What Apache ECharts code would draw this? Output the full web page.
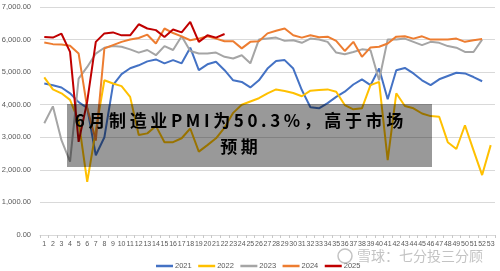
<!DOCTYPE html>
<html>
<head>
<meta charset="utf-8">
<script src="https://cdn.jsdelivr.net/npm/echarts@6/dist/echarts.min.js"></script>
<style>
  html, body { margin: 0; padding: 0; background: #fff; }
  #chart { width: 500px; height: 271px; }
</style>
</head>
<body>
<div id="chart"></div>
<script>
// weeks 1..53
const weeks = Array.from({ length: 53 }, (_, i) => String(i + 1));

const years = ['2021', '2022', '2023', '2024', '2025'];
const colors = ['#4472C4', '#FFC000', '#A5A5A5', '#ED7D31', '#C00000'];

const y2021 = [4650, 4600, 4530, 4350, 4080, 3900, 2450, 3000, 4600, 4940,
    5120, 5210, 5330, 5390, 5270, 5370, 5270, 5750, 5060, 5240,
    5320, 5060, 4750, 4700, 4530, 4750, 5110, 5340, 5370, 5110,
    4450, 3920, 3890, 4050, 4240, 4400, 4620, 4780, 4600, 5110,
    4170, 5060, 5130, 4960, 4750, 4600, 4780, 4880, 4980, 4960,
    4850, 4720];
const y2022 = [4840, 4470, 4350, 4150, 3500, 1630, 3200, 4750, 4650, 4570,
    4240, 3070, 3120, 3350, 2850, 2850, 2970, 3270, 2560, 2760,
    2970, 3300, 3750, 4000, 4100, 4200, 4350, 4470, 4420, 4360,
    4260, 4430, 4450, 4470, 4400, 3990, 3860, 3890, 4600, 4700,
    2300, 4350, 3960, 3890, 3730, 3650, 3630, 2850, 2640, 3370,
    2600, 1840, 2760];
const y2023 = [3430, 3950, 2910, 2250, 4800, 5160, 5570, 5750, 5800, 5780,
    5700, 5600, 5680, 5520, 5800, 5680, 6100, 5650, 5570, 5570,
    5600, 5470, 5420, 5520, 5270, 6000, 6030, 6060, 5960, 5980,
    5900, 6030, 6000, 5930, 5600, 5550, 5620, 5700, 5670, 4750,
    6000, 6000, 6030, 5930, 5830, 5930, 5900, 5800, 5750, 5620,
    5620, 6000];
const y2024 = [5910, 5860, 5850, 5810, 5570, 3900, 2900, 5730, 5830, 5930,
    6000, 6050, 6150, 5880, 6340, 6200, 6100, 5980, 6030, 6100,
    6030, 5950, 5950, 5730, 5930, 5950, 6190, 6270, 6340, 6130,
    6060, 6130, 6070, 6090, 5960, 5650, 5930, 5470, 5760, 5780,
    5880, 6090, 6100, 6030, 6100, 6000, 6000, 6000, 6030, 5930,
    5980, 6020];
const y2025 = [6080, 6060, 6180, 5620, 2860, 4100, 5930, 6190, 6220, 6130,
    6130, 6470, 6340, 6290, 6080, 6310, 6220, 6540, 5930, 6130,
    6060, 6170];

const yTicks = { min: 0, max: 7000, interval: 1000 };

const headline = '6月制造业PMI为50.3%，高于市场';
const headline2 = '预期';
const watermark = '雪球：七分投三分顾';

const seriesData = [y2021, y2022, y2023, y2024, y2025];

// spread the characters a little, like the original caption
function spaced(str) {
    return str.split('').map(ch => '{c|' + ch + '}').join('');
}

const chart = echarts.init(document.getElementById('chart'));

const option = {
    animation: false,
    color: colors,
    grid: {
        left: 40,
        right: 5,
        top: 7,
        bottom: 36,
        containLabel: false,
        outerBoundsMode: 'none'
    },
    xAxis: {
        type: 'category',
        data: weeks,
        boundaryGap: true,
        axisLine: { lineStyle: { color: '#D9D9D9', width: 1 } },
        axisTick: { show: true, interval: 0, length: 3, lineStyle: { color: '#C8C8C8' } },
        axisLabel: {
            interval: 0,
            fontSize: 7,
            color: '#595959',
            margin: 6,
            fontFamily: 'Liberation Sans'
        }
    },
    yAxis: {
        type: 'value',
        min: yTicks.min,
        max: yTicks.max,
        interval: yTicks.interval,
        axisLine: { show: false },
        axisTick: { show: false },
        splitLine: { lineStyle: { color: '#D9D9D9', width: 1 } },
        axisLabel: {
            fontSize: 7.5,
            color: '#595959',
            margin: 9,
            fontFamily: 'Liberation Sans',
            formatter: function (v) {
                return v.toLocaleString('en-US', { minimumFractionDigits: 2, maximumFractionDigits: 2 });
            }
        }
    },
    legend: {
        data: years,
        left: 151,
        top: 257,
        icon: 'rect',
        itemWidth: 17,
        itemHeight: 2.5,
        itemGap: 6.5,
        textStyle: { fontSize: 7.5, color: '#595959', fontFamily: 'Liberation Sans', padding: [0, 0, 0, -3] }
    },
    series: years.map((y, i) => ({
        name: y,
        type: 'line',
        data: seriesData[i],
        symbol: 'none',
        lineStyle: { width: 2, color: colors[i] },
        itemStyle: { color: colors[i] },
        z: 2 + i
    })),
    graphic: {
        elements: [
            {
                type: 'rect',
                z: 100,
                shape: { x: 67, y: 104, width: 365, height: 63 },
                style: { fill: 'rgba(0,0,0,0.4)' }
            },
            {
                type: 'text',
                z: 101,
                x: 239,
                y: 121,
                style: {
                    text: spaced(headline),
                    align: 'center',
                    verticalAlign: 'middle',
                    rich: {
                        c: {
                            fontSize: 17,
                            fontWeight: 'bold',
                            fontFamily: 'Noto Sans CJK SC',
                            color: '#fff',
                            padding: [0, 1.8]
                        }
                    }
                }
            },
            {
                type: 'text',
                z: 101,
                x: 239,
                y: 147,
                style: {
                    text: spaced(headline2),
                    align: 'center',
                    verticalAlign: 'middle',
                    rich: {
                        c: {
                            fontSize: 17,
                            fontWeight: 'bold',
                            fontFamily: 'Noto Sans CJK SC',
                            color: '#fff',
                            padding: [0, 1.8]
                        }
                    }
                }
            },
            {
                type: 'circle',
                z: 101,
                shape: { cx: 345, cy: 256, r: 7 },
                style: { fill: 'none', stroke: 'rgba(170,170,170,0.7)', lineWidth: 1.5 }
            },
            {
                type: 'text',
                z: 101,
                x: 357,
                y: 256,
                style: {
                    text: watermark,
                    fontSize: 14,
                    fontFamily: 'Noto Sans CJK SC',
                    fill: 'rgba(175,175,175,0.75)',
                    verticalAlign: 'middle'
                }
            }
        ]
    }
};

chart.setOption(option);
</script>
</body>
</html>
